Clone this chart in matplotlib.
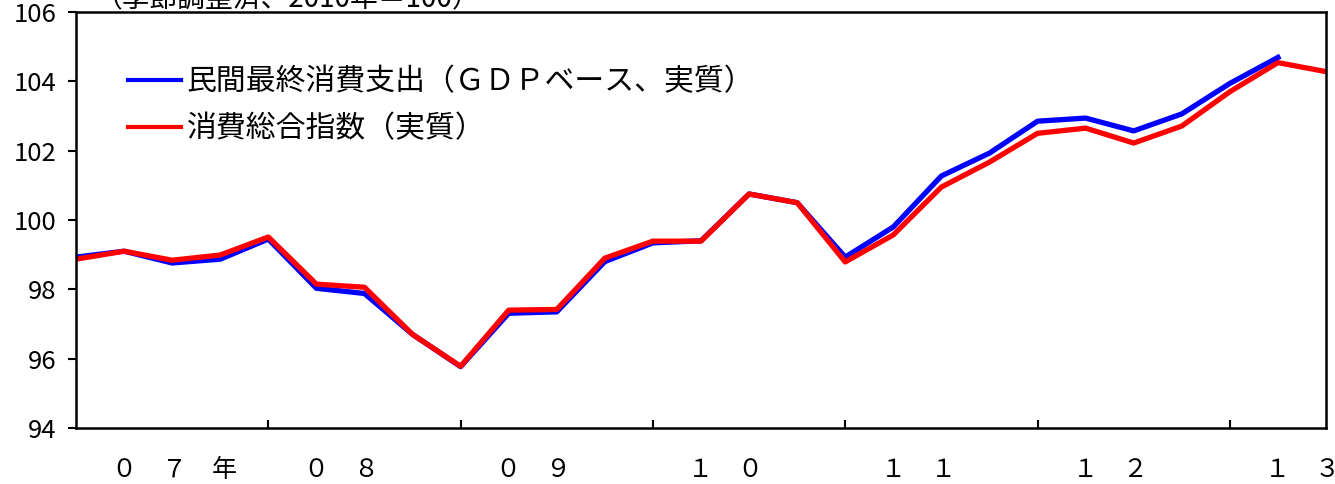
import matplotlib
matplotlib.use("Agg")
import matplotlib.pyplot as plt

plt.rcParams["font.family"] = ["Noto Sans CJK JP", "DejaVu Sans"]

# 四半期データ (2007Q1 - 2013Q3)
gdp = [98.93, 99.10, 98.76, 98.87, 99.45, 98.03, 97.88, 96.70, 95.77, 97.31,
       97.35, 98.80, 99.34, 99.40, 100.75, 100.50, 98.93, 99.80, 101.27, 101.93,
       102.85, 102.94, 102.57, 103.06, 103.94, 104.69]
sogo = [98.87, 99.10, 98.84, 98.99, 99.51, 98.15, 98.06, 96.70, 95.78, 97.40,
        97.42, 98.90, 99.39, 99.39, 100.75, 100.50, 98.79, 99.57, 100.95, 101.67,
        102.50, 102.65, 102.22, 102.71, 103.70, 104.54, 104.28]
year_labels = ["０　７　年", "０　８", "０　９", "１　０", "１　１", "１　２", "１　３"]
label_gdp = "民間最終消費支出（ＧＤＰベース、実質）"
label_sogo = "消費総合指数（実質）"
note = "（季節調整済、2010年＝100）"

fig = plt.figure(figsize=(13.35, 4.84), dpi=100)
ax = fig.add_axes([76 / 1335, 1 - 428 / 484, 1250 / 1335, 416 / 484])

ax.plot(range(len(gdp)), gdp, color="#0000ff", lw=3.8, label=label_gdp)
ax.plot(range(len(sogo)), sogo, color="#ff0000", lw=3.8, label=label_sogo)

ax.set_xlim(0, 26)
ax.set_ylim(94, 106)
ax.set_yticks(range(94, 107, 2))
ax.set_xticks(range(4, 26, 4))
ax.set_xticklabels([])
ax.tick_params(axis="y", direction="out", length=6, width=1.5, pad=8,
               labelsize=18.5, labelfontfamily="Noto Sans CJK JP")
ax.tick_params(axis="x", direction="in", length=6, width=1.5)
for s in ax.spines.values():
    s.set_linewidth(1.8)

# 年ラベル
for i, lab in enumerate(year_labels):
    ax.text(4 * i + 0.74, -0.10, lab, transform=ax.get_xaxis_transform(),
            ha="left", va="center", fontsize=18)

leg = ax.legend(loc="upper left", bbox_to_anchor=(0.0416, 0.87), frameon=False,
                fontsize=21.5, handlelength=1.76, handletextpad=0.2,
                labelspacing=0.55, borderpad=0, borderaxespad=0)
for h in leg.get_lines():
    h.set_linewidth(3)

fig.text(95 / 1335, 1 - 7 / 484, note, ha="left", va="baseline", fontsize=20)

fig.savefig("out.png", dpi=100)
